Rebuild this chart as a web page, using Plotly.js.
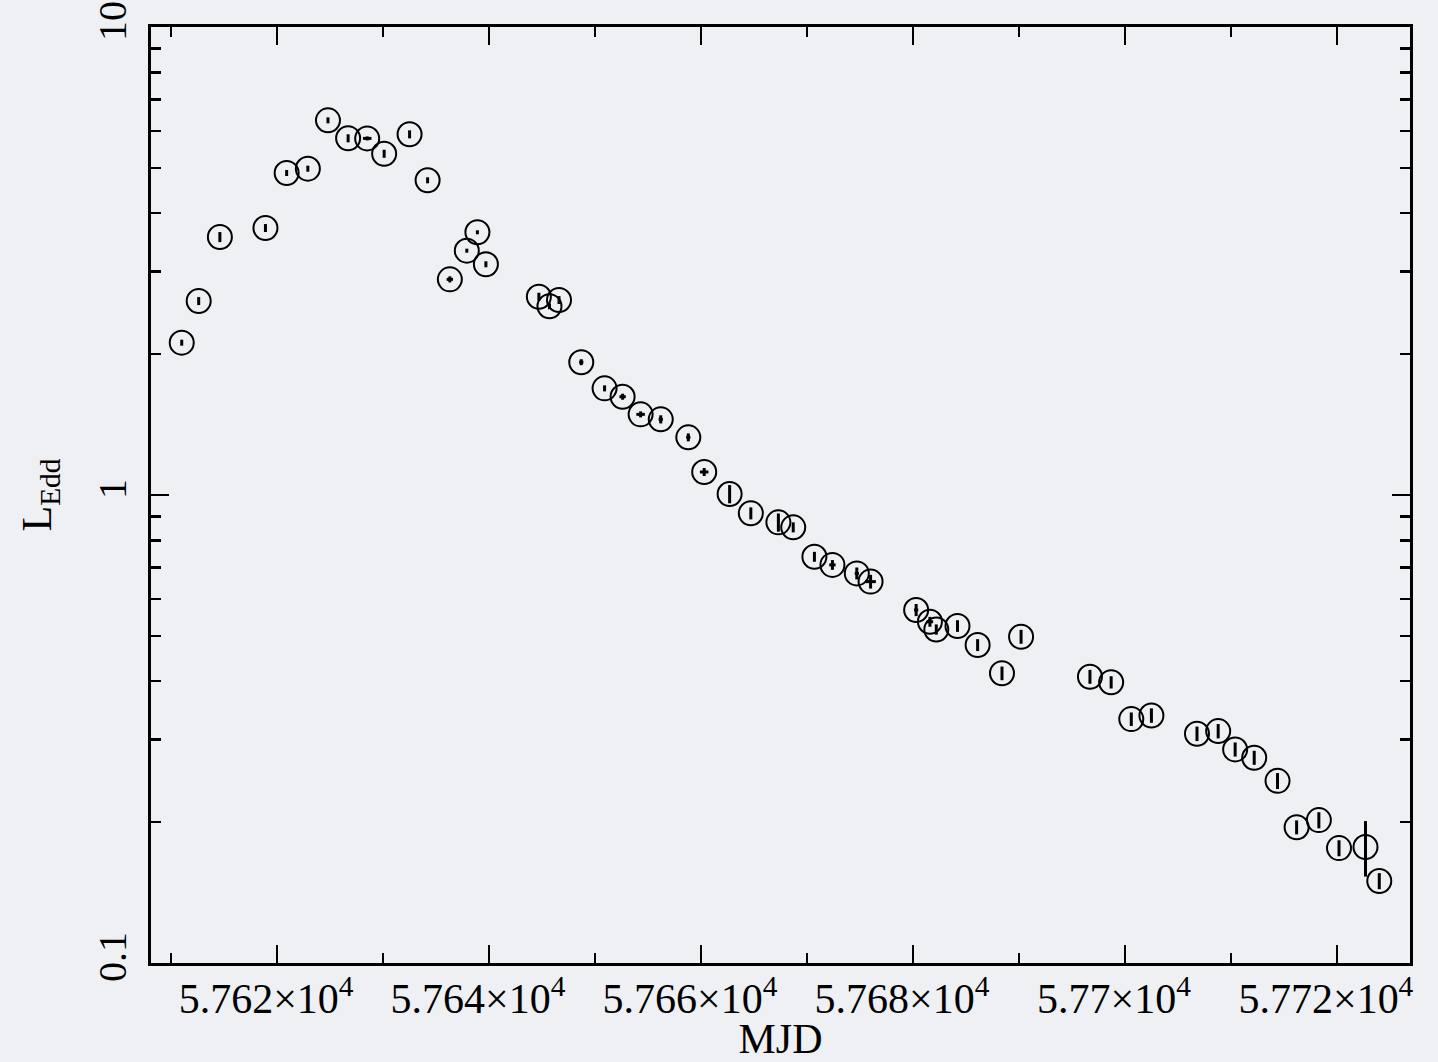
<!DOCTYPE html>
<html>
<head>
<meta charset="utf-8">
<script src="https://cdn.plot.ly/plotly-3.0.1.min.js"></script>
<style>html,body{margin:0;padding:0;background:#eef0f3;}#chart{width:1438px;height:1062px;}</style>
</head>
<body>
<div id="chart"></div>
<script>
// MJD of each observation
const mjd = [57611.0, 57612.6, 57614.6, 57618.9, 57620.9, 57622.9, 57624.8, 57626.7, 57628.5, 57630.1,
             57632.5, 57634.2, 57636.3, 57637.9, 57638.9, 57639.7, 57644.7, 57645.7, 57646.6, 57648.7,
             57650.9, 57652.6, 57654.3, 57656.2, 57658.8, 57660.3, 57662.7, 57664.7, 57667.3, 57668.7,
             57670.7, 57672.4, 57674.7, 57676.0, 57680.3, 57681.6, 57682.2, 57684.2, 57686.1, 57688.4,
             57690.2, 57696.7, 57698.7, 57700.6, 57702.5, 57706.8, 57708.8, 57710.4, 57712.2, 57714.4,
             57716.2, 57718.3, 57720.2, 57722.7, 57724.0];
// Luminosity in Eddington units
const lEdd = [2.116, 2.597, 3.558, 3.72, 4.876, 4.981, 6.318, 5.784, 5.78, 5.361,
              5.898, 4.704, 2.889, 3.327, 3.642, 3.112, 2.653, 2.531, 2.61, 1.922,
              1.690, 1.622, 1.487, 1.451, 1.328, 1.120, 1.005, 0.914, 0.874, 0.853,
              0.738, 0.709, 0.680, 0.653, 0.568, 0.536, 0.516, 0.525, 0.478, 0.416,
              0.498, 0.409, 0.398, 0.332, 0.338, 0.309, 0.313, 0.286, 0.2746, 0.245,
              0.195, 0.202, 0.176, 0.177, 0.1497];
// vertical error bars
const lEddErr = [0.031, 0.051, 0.088, 0.073, 0.072, 0.074, 0.093, 0.114, 0.057, 0.106,
                 0.116, 0.069, 0.043, 0.033, 0.036, 0.046, 0.052, 0.037, 0.051, 0.028,
                 0.025, 0.024, 0.022, 0.029, 0.026, 0.022, 0.045, 0.027, 0.039, 0.021,
                 0.018, 0.017, 0.020, 0.022, 0.017, 0.013, 0.013, 0.015, 0.014, 0.014,
                 0.017, 0.014, 0.012, 0.011, 0.012, 0.011, 0.011, 0.0099, 0.0095, 0.0096,
                 0.0067, 0.0080, 0.0069, 0.024, 0.0059];
// horizontal error bars (days)
const mjdErr = [0, 0, 0, 0, 0, 0, 0, 0, 0.4, 0,
                0, 0, 0.3, 0, 0, 0, 0, 0, 0, 0.2,
                0.1, 0.3, 0.4, 0.2, 0.2, 0.4, 0, 0, 0, 0,
                0, 0.3, 0.2, 0.5, 0.2, 0.3, 0, 0, 0, 0,
                0, 0, 0, 0, 0, 0, 0, 0, 0, 0,
                0, 0, 0, 0, 0];
const xTickVals = [57620, 57640, 57660, 57680, 57700, 57720];
const xTickText = ['5.762×10<sup>4</sup>', '5.764×10<sup>4</sup>', '5.766×10<sup>4</sup>',
                   '5.768×10<sup>4</sup>', '5.77×10<sup>4</sup>', '5.772×10<sup>4</sup>'];
const yTickVals = [0.1, 1, 10];
const yTickText = ['0.1', '1', '10'];

const fontFam = '"Liberation Serif", "Times New Roman", serif';

const trace = {
  x: mjd, y: lEdd, type: 'scatter', mode: 'markers',
  marker: {symbol: 'circle-open', size: 24, color: 'black', line: {width: 2, color: 'black'}},
  error_y: {type: 'data', array: lEddErr, visible: true, thickness: 3, width: 0, color: 'black'},
  error_x: {type: 'data', array: mjdErr, visible: true, thickness: 3, width: 0, color: 'black'},
  hoverinfo: 'x+y'
};

const layout = {
  width: 1438, height: 1062,
  margin: {l: 151, r: 28, t: 27, b: 99, pad: 0},
  paper_bgcolor: '#eef0f3', plot_bgcolor: '#eef0f3',
  showlegend: false,
  font: {family: fontFam, color: 'black', size: 40},
  xaxis: {
    range: [57608.1, 57726.9], showgrid: false, zeroline: false,
    showline: true, linewidth: 3, linecolor: 'black', mirror: 'allticks',
    ticks: 'inside', ticklen: 18, tickwidth: 2.5, tickcolor: 'black',
    tickvals: xTickVals, ticktext: xTickText, ticklabelshift: -11, ticklabelstandoff: -3,
    tickfont: {family: fontFam, size: 42, color: 'black'},
    minor: {ticks: 'inside', ticklen: 10, tickwidth: 2.5, tickcolor: 'black', dtick: 10, tick0: 57610, showgrid: false},
    title: {text: 'MJD', font: {family: fontFam, size: 42, color: 'black'}, standoff: 12}
  },
  yaxis: {
    type: 'log', range: [-1, 1], showgrid: false, zeroline: false,
    showline: true, linewidth: 3, linecolor: 'black', mirror: 'allticks',
    ticks: 'inside', ticklen: 18, tickwidth: 2.5, tickcolor: 'black',
    tickvals: yTickVals, ticktext: yTickText, tickangle: -90, ticklabelstandoff: 6,
    tickfont: {family: fontFam, size: 40, color: 'black'},
    minor: {ticks: 'inside', ticklen: 10, tickwidth: 2.5, tickcolor: 'black', dtick: 'D1', showgrid: false},
    title: {text: 'L<sub>Edd</sub>', font: {family: fontFam, size: 42, color: 'black'}, standoff: 26}
  }
};

Plotly.newPlot('chart', [trace], layout, {staticPlot: true, displayModeBar: false});
</script>
</body>
</html>
